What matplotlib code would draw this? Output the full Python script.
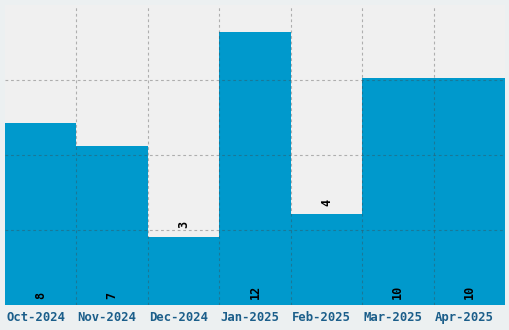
import numpy as np
import matplotlib.pyplot as plt

months = ['Oct-2024', 'Nov-2024', 'Dec-2024', 'Jan-2025', 'Feb-2025', 'Mar-2025', 'Apr-2025']
counts = [8, 7, 3, 12, 4, 10, 10]

bar_color = '#0099cc'
ymax = max(counts) * 1.1

fig = plt.figure(figsize=(5.1, 3.3), dpi=100, facecolor='#ecf0f1')
ax = fig.add_axes([5 / 510, 25 / 330, 500 / 510, 300 / 330])
ax.set_facecolor('#f0f0f0')

x = np.arange(len(months))
ax.bar(x, counts, width=1.0, color=bar_color, zorder=1)

ax.set_xlim(-0.5, len(months) - 0.5)
ax.set_ylim(0, ymax)

# labels sit a little left of the bar centres, like the original
ax.set_xticks(x - 0.07)
ax.set_xticklabels(months, family='DejaVu Sans Mono', fontweight='bold',
                   fontsize=8.8, color='#1b5e8a')
# grid on bar boundaries and quarter heights, drawn over the bars
ax.set_xticks(x[:-1] + 0.5, minor=True)
ax.set_yticks(np.linspace(0, ymax, 5)[1:-1])
ax.set_yticklabels([])
ax.tick_params(axis='both', which='both', length=0, pad=4)
grid_style = dict(color='#444444', alpha=0.38, linestyle=(0, (2.5, 2.5)),
                  linewidth=0.8, zorder=3)
ax.grid(True, which='minor', axis='x', **grid_style)
ax.grid(True, which='major', axis='y', **grid_style)
ax.grid(False, which='major', axis='x')
ax.set_axisbelow(False)
for s in ax.spines.values():
    s.set_visible(False)

for xi, v in zip(x, counts):
    if v / ymax < 0.4:
        ax.annotate(str(v), (xi, v), xytext=(0, 6), textcoords='offset points',
                    rotation=90, ha='center', va='bottom', fontsize=8.5,
                    family='DejaVu Sans Mono', fontweight='bold', color='black')
    else:
        ax.annotate(str(v), (xi, 0), xytext=(0, 4), textcoords='offset points',
                    rotation=90, ha='center', va='bottom', fontsize=8.5,
                    family='DejaVu Sans Mono', fontweight='bold', color='black')

fig.savefig('out.png', dpi=100, facecolor=fig.get_facecolor())
